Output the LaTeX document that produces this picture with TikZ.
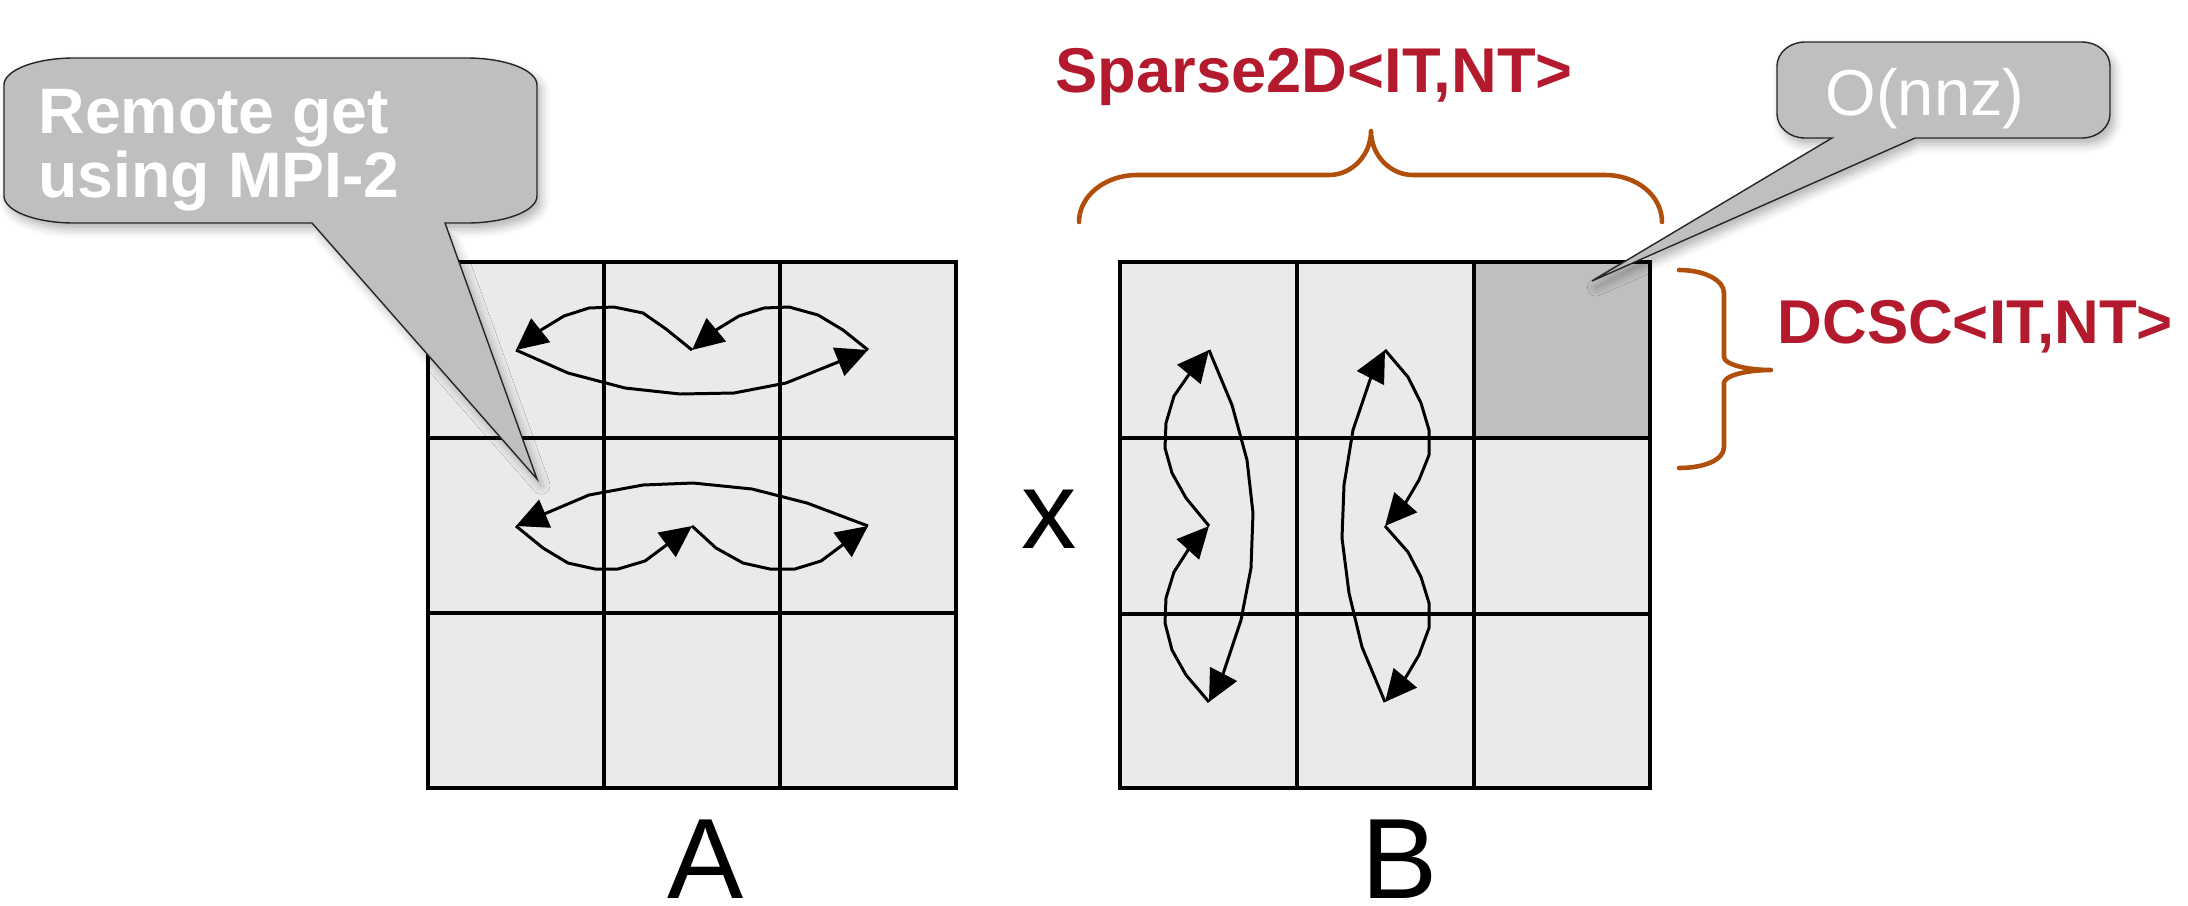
\documentclass[tikz,border=0pt]{standalone}
\usepackage{fontspec}
\setmainfont{Liberation Sans}
\usetikzlibrary{arrows.meta,shadows.blur}
\definecolor{cellgrey}{RGB}{234,234,234}
\definecolor{darkcell}{RGB}{191,191,191}
\definecolor{calloutgrey}{RGB}{190,191,190}
\definecolor{labelred}{RGB}{180,26,45}
\definecolor{braceorange}{RGB}{176,78,12}
\begin{document}
\begin{tikzpicture}[x=0.1mm, y=-0.1mm,
  gridline/.style={line width=1pt, line cap=rect},
  flow/.style={line width=0.85pt, line join=round, -{Triangle[length=9pt,width=8.5pt]}},
  bubble/.style={fill=calloutgrey, draw=black!85, line width=0.4pt, line join=miter,
    blur shadow={shadow xshift=1.2pt, shadow yshift=-1.8pt, shadow blur radius=2.5pt, shadow opacity=30}},
  bubbletext/.style={anchor=base west, inner sep=0pt, text=white},
  typelabel/.style={anchor=base west, inner sep=0pt, text=labelred, font=\fontsize{18}{22}\selectfont\bfseries},
  bigletter/.style={anchor=base, inner sep=0pt, font=\fontsize{32.5}{38}\selectfont},
  brace/.style={draw=braceorange, line width=1.3pt, line cap=round, line join=round}]

\useasboundingbox (0,0) rectangle (2188,905);

% ---- matrix A ----
\fill[cellgrey] (428,262) rectangle (956,788);
\foreach \x in {428,604,780,956} \draw[gridline] (\x,262) -- (\x,788);
\foreach \y in {262,438,613,788} \draw[gridline] (428,\y) -- (956,\y);

% ---- matrix B ----
\fill[cellgrey] (1120,262) rectangle (1650,788);
\fill[darkcell] (1474,262) rectangle (1650,438);
\foreach \x in {1120,1297,1474,1650} \draw[gridline] (\x,262) -- (\x,788);
\foreach \y in {262,438,614,788} \draw[gridline] (1120,\y) -- (1650,\y);

% ---- row traversal in A ----
\coordinate (aL1) at (516,350); \coordinate (aM1) at (692,350); \coordinate (aR1) at (868,350);
\coordinate (aL2) at (516,526); \coordinate (aM2) at (692,526); \coordinate (aR2) at (868,526);

\draw[flow] (aM1) -- (666,329) -- (643,313) -- (614,307) -- (589,308) -- (564,316) -- (541,330) -- (aL1);
\draw[flow] (aR1) -- (843,330) -- (818,315) -- (789,307) -- (764,308) -- (739,316) -- (716,330) -- (aM1);
\draw[flow] (aL1) -- (568,373) -- (625,388) -- (680,394) -- (734,393) -- (786,383) -- (aR1);

\draw[flow] (aR2) -- (807,503) -- (752,489) -- (693,483) -- (643,485) -- (589,495) -- (aL2);
\draw[flow] (aL2) -- (543,548) -- (568,563) -- (595,569) -- (618,569) -- (645,561) -- (aM2);
\draw[flow] (aM2) -- (716,548) -- (743,563) -- (770,569) -- (795,569) -- (821,561) -- (aR2);

% ---- column traversal in B ----
\coordinate (bT1) at (1209,350); \coordinate (bM1) at (1209,526); \coordinate (bB1) at (1209,702);
\coordinate (bT2) at (1385,350); \coordinate (bM2) at (1385,526); \coordinate (bB2) at (1385,702);

\draw[flow] (bT1) -- (1232,405) -- (1247,460) -- (1253,513) -- (1251,568) -- (1241,620) -- (1222,677) -- (bB1);
\draw[flow] (bM1) -- (1186,498) -- (1172,473) -- (1165,448) -- (1166,423) -- (1174,396) -- (1190,373) -- (bT1);
\draw[flow] (bB1) -- (1186,675) -- (1172,650) -- (1165,623) -- (1166,598) -- (1174,572) -- (1190,547) -- (bM1);

\draw[flow] (bB2) -- (1362,647) -- (1349,593) -- (1342,538) -- (1344,485) -- (1353,430) -- (1371,377) -- (bT2);
\draw[flow] (bT2) -- (1408,377) -- (1421,403) -- (1429,430) -- (1429,455) -- (1419,480) -- (1406,502) -- (bM2);
\draw[flow] (bM2) -- (1408,552) -- (1421,577) -- (1429,603) -- (1429,628) -- (1419,655) -- (1406,677) -- (bB2);

% ---- callout: remote get ----
\coordinate (remoteTip) at (537,479);
\path[bubble] (74,58) -- (467,58) .. controls (505.6,58) and (537,70.1) .. (537,85)
  -- (537,196) .. controls (537,210.9) and (505.6,223) .. (467,223)
  -- (445,223) -- (remoteTip) -- (312,223)
  -- (74,223) .. controls (35.4,223) and (4,210.9) .. (4,196)
  -- (4,85) .. controls (4,70.1) and (35.4,58) .. (74,58) -- cycle;
\node[bubbletext, font=\fontsize{18.3}{20}\selectfont\bfseries] (remote1) at (38,133) {Remote get};
\node[bubbletext, font=\fontsize{18.3}{20}\selectfont\bfseries] (remote2) at (38,197) {using MPI-2};

% ---- callout: O(nnz) ----
\coordinate (nnzTip) at (1592,281);
\path[bubble] (1805,42) -- (2082,42) .. controls (2097.5,42) and (2110,52.8) .. (2110,66)
  -- (2110,114) .. controls (2110,127.2) and (2097.5,138) .. (2082,138)
  -- (1915,138) -- (nnzTip) -- (1832,138)
  -- (1805,138) .. controls (1789.5,138) and (1777,127.2) .. (1777,114)
  -- (1777,66) .. controls (1777,52.8) and (1789.5,42) .. (1805,42) -- cycle;
\node[bubbletext, font=\fontsize{18.5}{22}\selectfont] (onnz) at (1825,115) {O(nnz)};

% ---- braces ----
\draw[brace] (1079,222) .. controls (1079,196) and (1105,175) .. (1137,175)
  -- (1329,175) .. controls (1352,175) and (1371,155) .. (1371,131)
  .. controls (1371,155) and (1390,175) .. (1413,175)
  -- (1605,175) .. controls (1637,175) and (1662,196) .. (1662,222);
\draw[brace] (1679,270) .. controls (1704,270) and (1724,280) .. (1724,293)
  -- (1724,357) .. controls (1724,364) and (1745,370) .. (1771,370)
  .. controls (1745,370) and (1724,376) .. (1724,383)
  -- (1724,447) .. controls (1724,460) and (1704,468) .. (1679,468);

% ---- labels ----
\node[typelabel] (sparse) at (1055,92) {Sparse2D<IT,NT>};
\node[typelabel, font=\fontsize{17.6}{22}\selectfont\bfseries] (dcsc) at (1777,343) {DCSC<IT,NT>};
\node[bigletter, font=\fontsize{31.5}{38}\selectfont] (times) at (1049,548) {x};
\node[bigletter] (labA) at (706,898) {A};
\node[bigletter] (labB) at (1400,898) {B};
\end{tikzpicture}
\end{document}
